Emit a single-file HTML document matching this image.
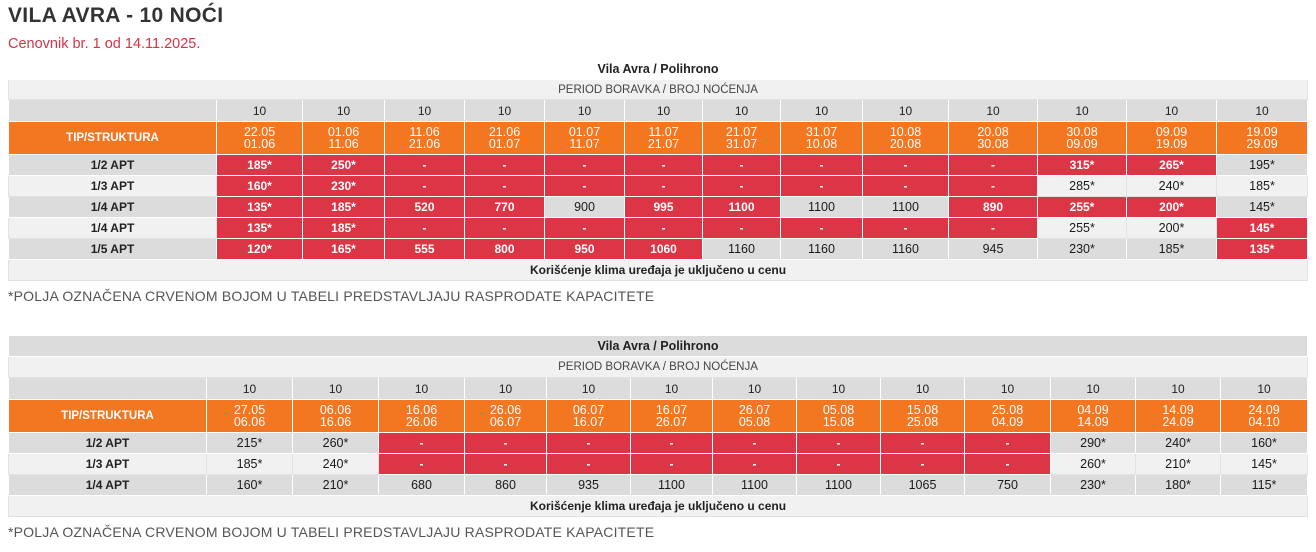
<!DOCTYPE html>
<html><head><meta charset="utf-8">
<style>
html,body{margin:0;padding:0;background:#fff;width:1316px;height:552px;overflow:hidden;font-family:"Liberation Sans",sans-serif;}
.h1{position:absolute;left:8px;top:4px;font-size:21px;font-weight:bold;color:#333;letter-spacing:0.3px;}
.sub{position:absolute;left:8px;top:36px;font-size:14.5px;color:#d63347;}
.note{position:absolute;left:8px;font-size:14px;color:#555;letter-spacing:0.2px;}
table{position:absolute;left:8px;width:1299px;table-layout:fixed;border-collapse:collapse;border:1px solid #ddd;}
td{padding:0;text-align:center;font-size:12px;color:#222;border:1px solid #fff;white-space:nowrap;overflow:hidden;}
.w{background:#fff}.l{background:#f1f1f1}.d{background:#dcdcdc}
tr.l td{border-color:#e2e2e2}
.o td{background:#f37621;color:#fff;line-height:12.5px;font-size:12.5px;}
.o td.tip{font-weight:bold;font-size:11.5px}
.lab{font-weight:bold}
td.r{background:#dc3545;color:#fff;font-weight:bold;border-color:#fff!important}
td.p{font-size:12.5px;color:#1a1a1a}
.t{font-weight:bold;font-size:12.5px}
</style></head><body>
<div class="h1">VILA AVRA - 10 NOĆI</div>
<div class="sub">Cenovnik br. 1 od 14.11.2025.</div>

<table style="top:58px">
<colgroup><col style="width:208px"><col style="width:86px"><col style="width:82px"><col style="width:80px"><col style="width:80px"><col style="width:80px"><col style="width:78px"><col style="width:78px"><col style="width:82px"><col style="width:86px"><col style="width:89px"><col style="width:89px"><col style="width:90px"><col style="width:91px"></colgroup>
<tr class="w" style="height:21px"><td colspan="14" class="t">Vila Avra / Polihrono</td></tr>
<tr class="l" style="height:20px"><td colspan="14" style="font-size:11.5px;color:#444">PERIOD BORAVKA / BROJ NOĆENJA</td></tr>
<tr class="d" style="height:22px"><td></td><td>10</td><td>10</td><td>10</td><td>10</td><td>10</td><td>10</td><td>10</td><td>10</td><td>10</td><td>10</td><td>10</td><td>10</td><td>10</td></tr>
<tr class="o" style="height:33px"><td class="tip">TIP/STRUKTURA</td><td>22.05<br>01.06</td><td>01.06<br>11.06</td><td>11.06<br>21.06</td><td>21.06<br>01.07</td><td>01.07<br>11.07</td><td>11.07<br>21.07</td><td>21.07<br>31.07</td><td>31.07<br>10.08</td><td>10.08<br>20.08</td><td>20.08<br>30.08</td><td>30.08<br>09.09</td><td>09.09<br>19.09</td><td>19.09<br>29.09</td></tr>
<tr class="d" style="height:21px"><td class="lab">1/2 APT</td><td class="r">185*</td><td class="r">250*</td><td class="r">-</td><td class="r">-</td><td class="r">-</td><td class="r">-</td><td class="r">-</td><td class="r">-</td><td class="r">-</td><td class="r">-</td><td class="r">315*</td><td class="r">265*</td><td class="p">195*</td></tr>
<tr class="l" style="height:21px"><td class="lab">1/3 APT</td><td class="r">160*</td><td class="r">230*</td><td class="r">-</td><td class="r">-</td><td class="r">-</td><td class="r">-</td><td class="r">-</td><td class="r">-</td><td class="r">-</td><td class="r">-</td><td class="p">285*</td><td class="p">240*</td><td class="p">185*</td></tr>
<tr class="d" style="height:21px"><td class="lab">1/4 APT</td><td class="r">135*</td><td class="r">185*</td><td class="r">520</td><td class="r">770</td><td class="p">900</td><td class="r">995</td><td class="r">1100</td><td class="p">1100</td><td class="p">1100</td><td class="r">890</td><td class="r">255*</td><td class="r">200*</td><td class="p">145*</td></tr>
<tr class="l" style="height:21px"><td class="lab">1/4 APT</td><td class="r">135*</td><td class="r">185*</td><td class="r">-</td><td class="r">-</td><td class="r">-</td><td class="r">-</td><td class="r">-</td><td class="r">-</td><td class="r">-</td><td class="r">-</td><td class="p">255*</td><td class="p">200*</td><td class="r">145*</td></tr>
<tr class="d" style="height:21px"><td class="lab">1/5 APT</td><td class="r">120*</td><td class="r">165*</td><td class="r">555</td><td class="r">800</td><td class="r">950</td><td class="r">1060</td><td class="p">1160</td><td class="p">1160</td><td class="p">1160</td><td class="p">945</td><td class="p">230*</td><td class="p">185*</td><td class="r">135*</td></tr>
<tr class="l" style="height:21px"><td colspan="14" class="lab">Korišćenje klima uređaja je uključeno u cenu</td></tr>
</table>
<div class="note" style="top:288px">*POLJA OZNAČENA CRVENOM BOJOM U TABELI PREDSTAVLJAJU RASPRODATE KAPACITETE</div>

<table style="top:335px">
<colgroup><col style="width:198px"><col style="width:86px"><col style="width:86px"><col style="width:86px"><col style="width:82px"><col style="width:84px"><col style="width:82px"><col style="width:84px"><col style="width:84px"><col style="width:84px"><col style="width:86px"><col style="width:85px"><col style="width:85px"><col style="width:87px"></colgroup>
<tr class="d" style="height:21px"><td colspan="14" class="t">Vila Avra / Polihrono</td></tr>
<tr class="l" style="height:21px"><td colspan="14" style="font-size:11.5px;color:#444">PERIOD BORAVKA / BROJ NOĆENJA</td></tr>
<tr class="d" style="height:22px"><td></td><td>10</td><td>10</td><td>10</td><td>10</td><td>10</td><td>10</td><td>10</td><td>10</td><td>10</td><td>10</td><td>10</td><td>10</td><td>10</td></tr>
<tr class="o" style="height:33px"><td class="tip">TIP/STRUKTURA</td><td>27.05<br>06.06</td><td>06.06<br>16.06</td><td>16.06<br>26.06</td><td>26.06<br>06.07</td><td>06.07<br>16.07</td><td>16.07<br>26.07</td><td>26.07<br>05.08</td><td>05.08<br>15.08</td><td>15.08<br>25.08</td><td>25.08<br>04.09</td><td>04.09<br>14.09</td><td>14.09<br>24.09</td><td>24.09<br>04.10</td></tr>
<tr class="d" style="height:21px"><td class="lab">1/2 APT</td><td class="p">215*</td><td class="p">260*</td><td class="r">-</td><td class="r">-</td><td class="r">-</td><td class="r">-</td><td class="r">-</td><td class="r">-</td><td class="r">-</td><td class="r">-</td><td class="p">290*</td><td class="p">240*</td><td class="p">160*</td></tr>
<tr class="l" style="height:21px"><td class="lab">1/3 APT</td><td class="p">185*</td><td class="p">240*</td><td class="r">-</td><td class="r">-</td><td class="r">-</td><td class="r">-</td><td class="r">-</td><td class="r">-</td><td class="r">-</td><td class="r">-</td><td class="p">260*</td><td class="p">210*</td><td class="p">145*</td></tr>
<tr class="d" style="height:21px"><td class="lab">1/4 APT</td><td class="p">160*</td><td class="p">210*</td><td class="p">680</td><td class="p">860</td><td class="p">935</td><td class="p">1100</td><td class="p">1100</td><td class="p">1100</td><td class="p">1065</td><td class="p">750</td><td class="p">230*</td><td class="p">180*</td><td class="p">115*</td></tr>
<tr class="l" style="height:21px"><td colspan="14" class="lab">Korišćenje klima uređaja je uključeno u cenu</td></tr>
</table>
<div class="note" style="top:524px">*POLJA OZNAČENA CRVENOM BOJOM U TABELI PREDSTAVLJAJU RASPRODATE KAPACITETE</div>
</body></html>
